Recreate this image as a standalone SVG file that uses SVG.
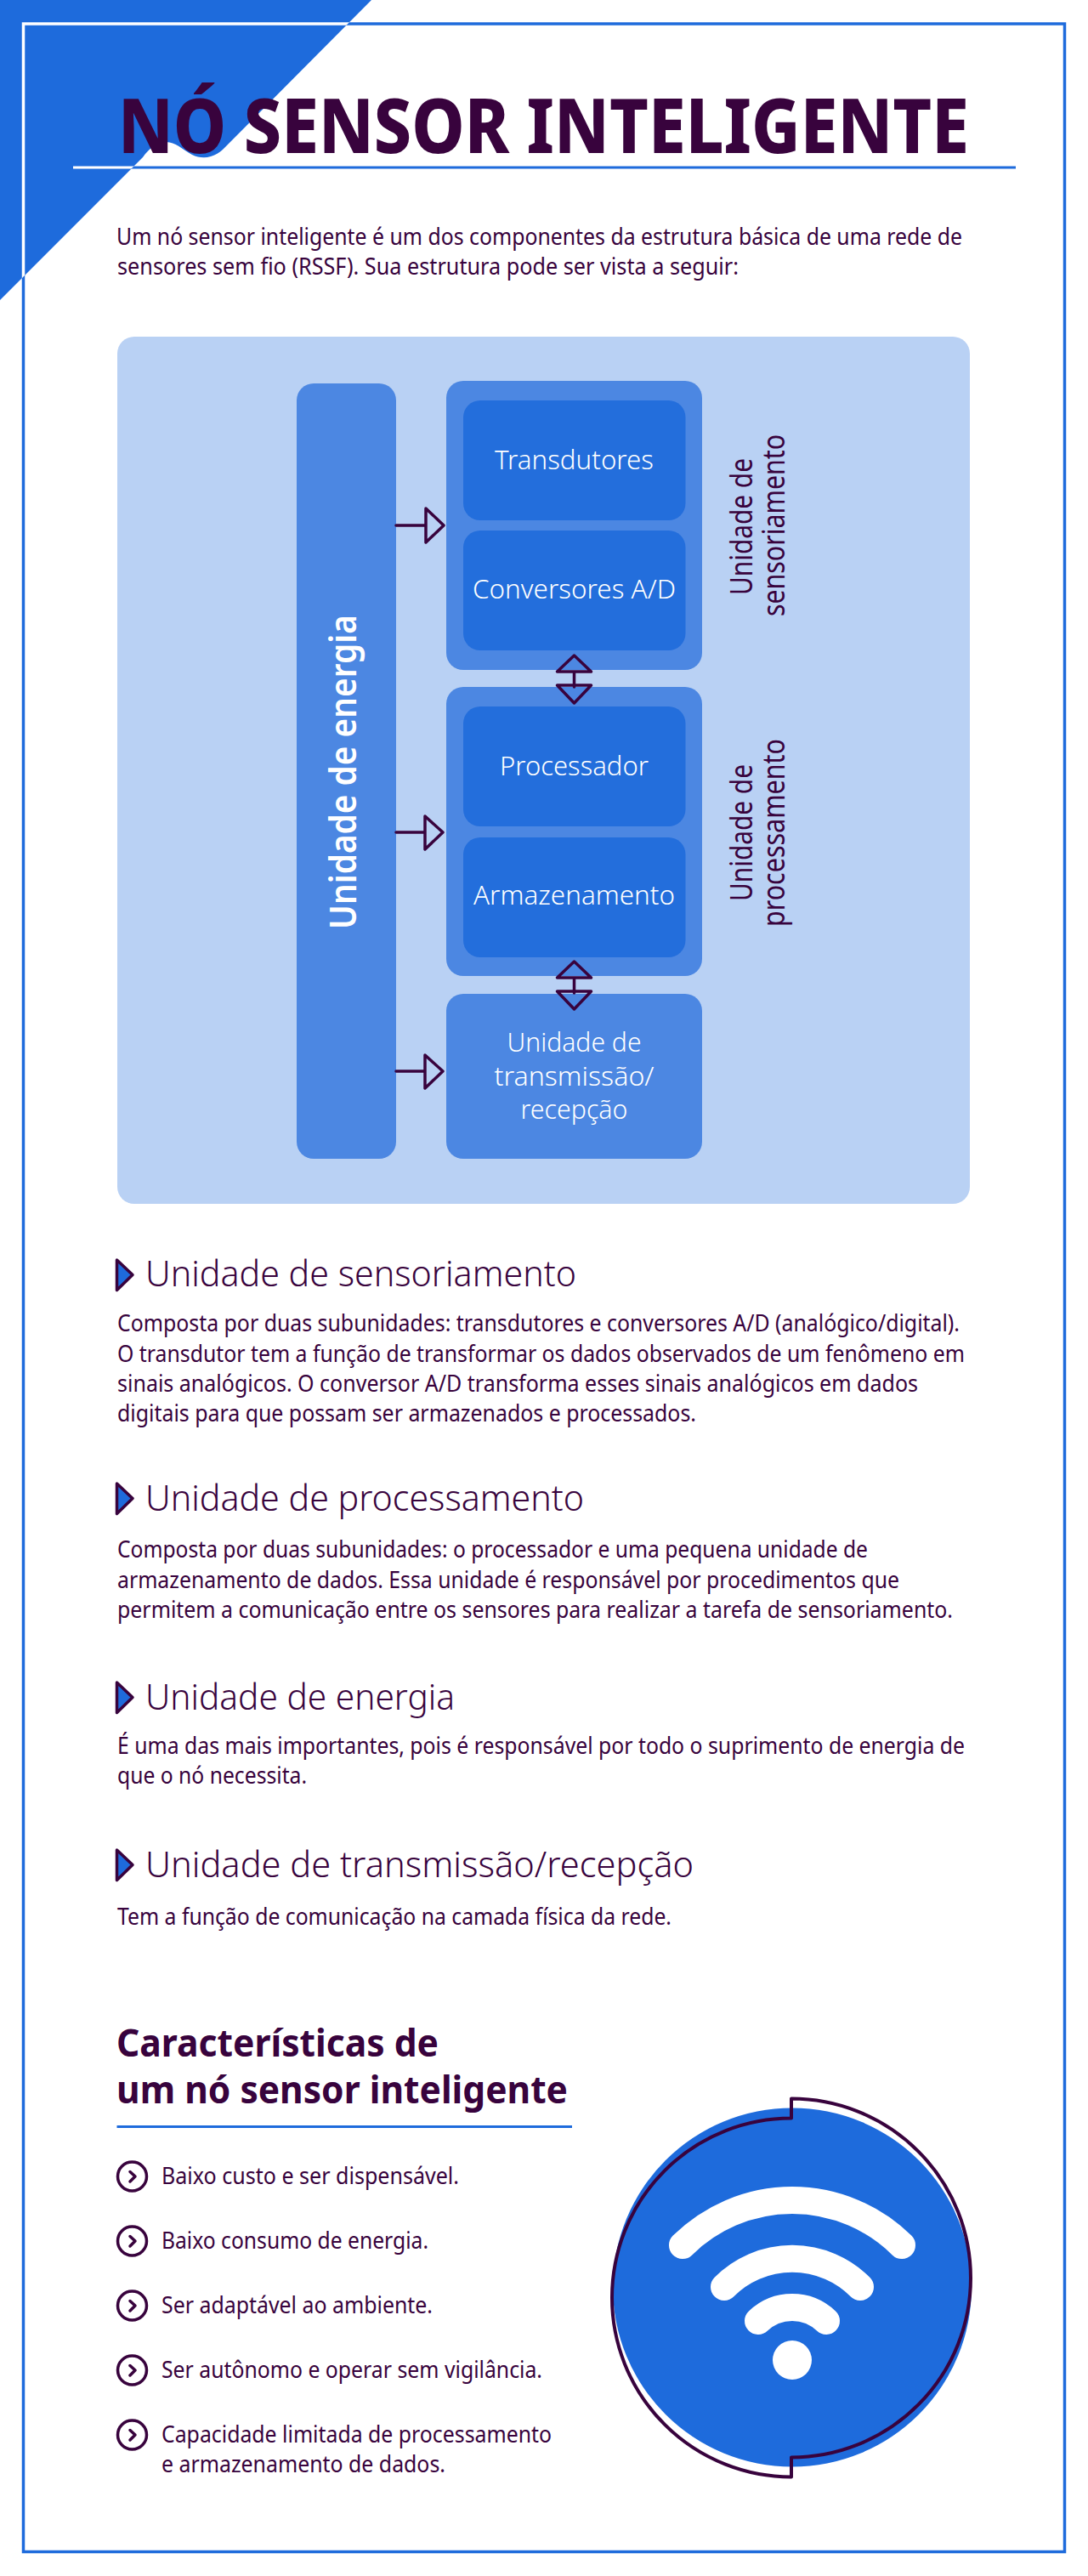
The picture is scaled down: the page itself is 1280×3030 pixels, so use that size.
<svg xmlns="http://www.w3.org/2000/svg" width="1280" height="3030" viewBox="0 0 1280 3030">
<style>
text{font-family:"Noto Sans","Open Sans","Liberation Sans",sans-serif;fill:#38033d}
.title{font-size:89px;font-weight:800}
.body{font-size:27px;font-weight:400}
.h{font-size:42px;font-weight:300}
.sub{font-size:45px;font-weight:700}
.lab{font-size:32px;font-weight:300;fill:#fff;text-anchor:middle}
.rot{font-size:37px;font-weight:400}
.line{fill:none;stroke:#38033d;stroke-width:3.5;stroke-linejoin:round;stroke-linecap:round}
.grp{fill:#4c87e2}
.inner{fill:#236edc}
.mark{fill:#1e6bdc;stroke:#38033d;stroke-width:3.5;stroke-linejoin:round}
.wifi{fill:none;stroke:#fff;stroke-width:32;stroke-linecap:round}
</style>
<defs>
<clipPath id="tri"><path d="M0 0H437L263 175C252 186 238 188 226 182C214 175 205 166 194 167C184 168 176 174 168 185L0 353Z"/></clipPath>
</defs>
<rect width="1280" height="3030" fill="#fff"/>
<g id="frame">
<path d="M0 0H437L263 175C252 186 238 188 226 182C214 175 205 166 194 167C184 168 176 174 168 185L0 353Z" fill="#1e6bdc"/>
<rect x="27.5" y="28" width="1225" height="2973.5" fill="none" stroke="#1e6bdc" stroke-width="3.500"/>
<rect x="27.5" y="28" width="1225" height="2973.5" fill="none" stroke="#fff" stroke-width="3.500" clip-path="url(#tri)"/>
<line x1="86" y1="197" x2="1195" y2="197" stroke="#1e6bdc" stroke-width="3"/>
<line x1="86" y1="197" x2="1195" y2="197" stroke="#fff" stroke-width="3" clip-path="url(#tri)"/>
</g>
<g id="header">
<text class="title" x="139" y="180" textLength="1001" lengthAdjust="spacingAndGlyphs">NÓ SENSOR INTELIGENTE</text>
<text class="body" x="137" y="288" textLength="995" lengthAdjust="spacingAndGlyphs">Um nó sensor inteligente é um dos componentes da estrutura básica de uma rede de</text>
<text class="body" x="138" y="323" textLength="731" lengthAdjust="spacingAndGlyphs">sensores sem fio (RSSF). Sua estrutura pode ser vista a seguir:</text>
</g>
<rect id="panel" x="138" y="396" width="1003" height="1020" rx="20" fill="#b9d1f4"/>
<g id="energia">
<rect class="grp" x="349" y="451" width="117" height="912" rx="20"/>
<text transform="translate(419 1093) rotate(-90)" textLength="370" lengthAdjust="spacingAndGlyphs" style="font-size:44px;font-weight:600;fill:#fff">Unidade de energia</text>
</g>
<g id="sensoriamento">
<rect class="grp" x="525" y="448" width="301" height="340" rx="20"/>
<text class="rot" transform="translate(885 700) rotate(-90)" textLength="161" lengthAdjust="spacingAndGlyphs">Unidade de</text>
<text class="rot" transform="translate(923 725) rotate(-90)" textLength="214" lengthAdjust="spacingAndGlyphs">sensoriamento</text>
</g>
<g id="transdutores">
<rect class="inner" x="545" y="471" width="261.500" height="141" rx="20"/>
<text class="lab" x="675.500" y="552" textLength="187" lengthAdjust="spacingAndGlyphs">Transdutores</text>
</g>
<g id="conversores">
<rect class="inner" x="545" y="624" width="261.500" height="141" rx="20"/>
<text class="lab" x="675.500" y="704" textLength="239" lengthAdjust="spacingAndGlyphs">Conversores A/D</text>
</g>
<g id="processamento">
<rect class="grp" x="525" y="808" width="301" height="340" rx="20"/>
<text class="rot" transform="translate(885 1060) rotate(-90)" textLength="161" lengthAdjust="spacingAndGlyphs">Unidade de</text>
<text class="rot" transform="translate(923 1090) rotate(-90)" textLength="221" lengthAdjust="spacingAndGlyphs">processamento</text>
</g>
<g id="processador">
<rect class="inner" x="545" y="831" width="261.500" height="141" rx="20"/>
<text class="lab" x="675.500" y="912" textLength="175" lengthAdjust="spacingAndGlyphs">Processador</text>
</g>
<g id="armazenamento">
<rect class="inner" x="545" y="985" width="261.500" height="141" rx="20"/>
<text class="lab" x="675.500" y="1064" textLength="237" lengthAdjust="spacingAndGlyphs">Armazenamento</text>
</g>
<g id="transmissao">
<rect class="grp" x="525" y="1169" width="301" height="194" rx="20"/>
<text class="lab" x="675.500" y="1237" textLength="158" lengthAdjust="spacingAndGlyphs">Unidade de</text>
<text class="lab" x="675.500" y="1277" textLength="188" lengthAdjust="spacingAndGlyphs">transmissão/</text>
<text class="lab" x="675.500" y="1316" textLength="126" lengthAdjust="spacingAndGlyphs">recepção</text>
</g>
<g id="connectors">
<path class="line" d="M466 618H501M501 598L522 618L501 638Z"/>
<path class="line" d="M466 979H500M500 960L521 979L500 999Z"/>
<path class="line" d="M466 1260H500M500 1241L521 1260L500 1280Z"/>
<path class="line" d="M655.500 790L675.500 771L695.500 790ZM675.500 790V808M655.500 806H695.500L675.500 827Z"/>
<path class="line" d="M655.500 1150L675.500 1131L695.500 1150ZM675.500 1150V1168M655.500 1166H695.500L675.500 1187Z"/>
</g>
<g id="sec-sensoriamento">
<polygon class="mark" points="137.500,1482 156,1499.500 137.500,1517.500"/>
<text class="h" x="171" y="1513" textLength="507" lengthAdjust="spacingAndGlyphs">Unidade de sensoriamento</text>
<text class="body" x="138" y="1566" textLength="991" lengthAdjust="spacingAndGlyphs">Composta por duas subunidades: transdutores e conversores A/D (analógico/digital).</text>
<text class="body" x="138" y="1602" textLength="997" lengthAdjust="spacingAndGlyphs">O transdutor tem a função de transformar os dados observados de um fenômeno em</text>
<text class="body" x="138" y="1637" textLength="942" lengthAdjust="spacingAndGlyphs">sinais analógicos. O conversor A/D transforma esses sinais analógicos em dados</text>
<text class="body" x="138" y="1672" textLength="681" lengthAdjust="spacingAndGlyphs">digitais para que possam ser armazenados e processados.</text>
</g>
<g id="sec-processamento">
<polygon class="mark" points="137.500,1745 156,1762.500 137.500,1780.500"/>
<text class="h" x="171" y="1777" textLength="516" lengthAdjust="spacingAndGlyphs">Unidade de processamento</text>
<text class="body" x="138" y="1832" textLength="883" lengthAdjust="spacingAndGlyphs">Composta por duas subunidades: o processador e uma pequena unidade de</text>
<text class="body" x="138" y="1868" textLength="920" lengthAdjust="spacingAndGlyphs">armazenamento de dados. Essa unidade é responsável por procedimentos que</text>
<text class="body" x="138" y="1903" textLength="983" lengthAdjust="spacingAndGlyphs">permitem a comunicação entre os sensores para realizar a tarefa de sensoriamento.</text>
</g>
<g id="sec-energia">
<polygon class="mark" points="137.500,1979 156,1996.500 137.500,2014.500"/>
<text class="h" x="171" y="2011" textLength="364" lengthAdjust="spacingAndGlyphs">Unidade de energia</text>
<text class="body" x="138" y="2063" textLength="997" lengthAdjust="spacingAndGlyphs">É uma das mais importantes, pois é responsável por todo o suprimento de energia de</text>
<text class="body" x="138" y="2098" textLength="223" lengthAdjust="spacingAndGlyphs">que o nó necessita.</text>
</g>
<g id="sec-transmissao">
<polygon class="mark" points="137.500,2176 156,2193.500 137.500,2211.500"/>
<text class="h" x="171" y="2208" textLength="645" lengthAdjust="spacingAndGlyphs">Unidade de transmissão/recepção</text>
<text class="body" x="138" y="2264" textLength="652" lengthAdjust="spacingAndGlyphs">Tem a função de comunicação na camada física da rede.</text>
</g>
<g id="caracteristicas">
<text class="sub" x="137" y="2419" textLength="379" lengthAdjust="spacingAndGlyphs">Características de</text>
<text class="sub" x="137" y="2474" textLength="531" lengthAdjust="spacingAndGlyphs">um nó sensor inteligente</text>
<line x1="137.500" y1="2501.500" x2="673" y2="2501.500" stroke="#1e6bdc" stroke-width="3"/>
</g>
<g id="item-1">
<circle class="line" cx="155.500" cy="2560" r="17"/><path class="line" d="M153 2554.500L159 2560L153 2566"/>
<text class="body" x="190" y="2569" textLength="350" lengthAdjust="spacingAndGlyphs">Baixo custo e ser dispensável.</text>
</g>
<g id="item-2">
<circle class="line" cx="155.500" cy="2636" r="17"/><path class="line" d="M153 2630.500L159 2636L153 2642"/>
<text class="body" x="190" y="2645" textLength="314" lengthAdjust="spacingAndGlyphs">Baixo consumo de energia.</text>
</g>
<g id="item-3">
<circle class="line" cx="155.500" cy="2712" r="17"/><path class="line" d="M153 2706.500L159 2712L153 2718"/>
<text class="body" x="190" y="2721" textLength="319" lengthAdjust="spacingAndGlyphs">Ser adaptável ao ambiente.</text>
</g>
<g id="item-4">
<circle class="line" cx="155.500" cy="2788" r="17"/><path class="line" d="M153 2782.500L159 2788L153 2794"/>
<text class="body" x="190" y="2797" textLength="448" lengthAdjust="spacingAndGlyphs">Ser autônomo e operar sem vigilância.</text>
</g>
<g id="item-5">
<circle class="line" cx="155.500" cy="2864" r="17"/><path class="line" d="M153 2858.500L159 2864L153 2870"/>
<text class="body" x="190" y="2873" textLength="459" lengthAdjust="spacingAndGlyphs">Capacidade limitada de processamento</text>
<text class="body" x="190" y="2908" textLength="334" lengthAdjust="spacingAndGlyphs">e armazenamento de dados.</text>
</g>
<g id="wifi-icon">
<circle cx="932" cy="2690.500" r="211" fill="#1e6bdc"/>
<path class="wifi" d="M803 2641A183.500 183.500 0 0 1 1061 2641"/>
<path class="wifi" d="M852 2690A113 113 0 0 1 1012 2690"/>
<path class="wifi" d="M892 2730A58 58 0 0 1 972 2730"/>
<circle cx="932" cy="2776" r="23" fill="#fff"/>
<path class="line" style="stroke-width:4" d="M931 2468.500A211 211 0 0 1 931 2890.500V2913.500A211 211 0 0 1 931 2491.500Z"/>
</g>
</svg>
